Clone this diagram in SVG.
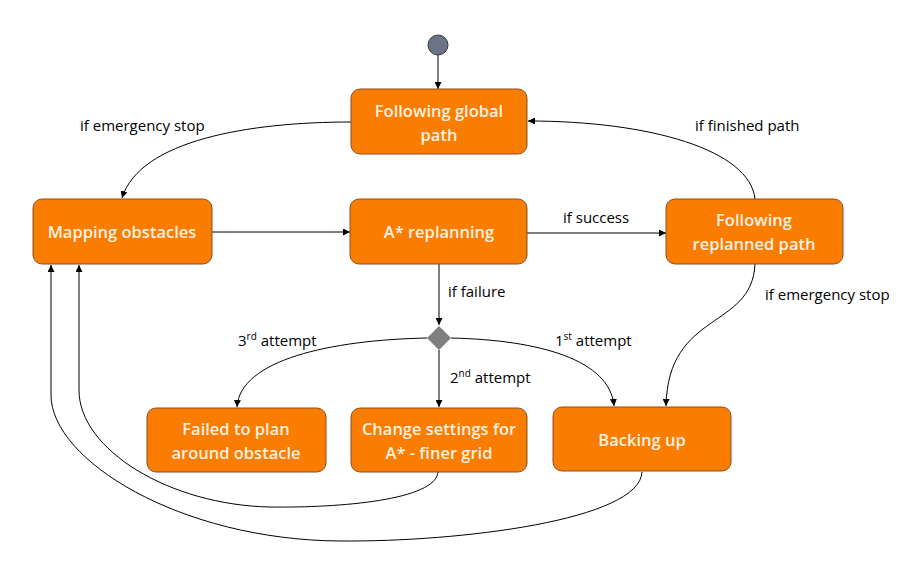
<svg xmlns="http://www.w3.org/2000/svg" width="919" height="573" viewBox="0 0 919 573">
<defs>
<marker id="arr" viewBox="0 0 10 10" refX="10" refY="5" markerWidth="7" markerHeight="7" markerUnits="userSpaceOnUse" orient="auto">
<path d="M0,0 L10,5 L0,10 z" fill="#000"/>
</marker>
<style>
.box{fill:#fa7d00;stroke:#8a4e22;stroke-width:1}
.nt{font-family:"Open Sans","Noto Sans",sans-serif;font-size:16.5px;font-weight:600;fill:#fdf0e0;text-anchor:middle;dominant-baseline:central}
.lb{font-family:"Open Sans","Noto Sans",sans-serif;font-size:15px;fill:#000}
.ln{fill:none;stroke:#000;stroke-width:1;marker-end:url(#arr)}
.sup{font-size:10px}
</style>
</defs>
<rect width="919" height="573" fill="#fff"/>
<g id="connectors">
<path class="ln" d="M438,55 L438,89"/>
<path class="ln" d="M351,122 C250,122 140,140 122,198"/>
<path class="ln" d="M755,199 C750,150 650,121 528,121"/>
<path class="ln" d="M212,232 L350,232"/>
<path class="ln" d="M527,233 L666,233"/>
<path class="ln" d="M439,264 L439,325"/>
<path class="ln" d="M755,264 C752,330 668,310 666,406"/>
<path class="ln" d="M451,338 C540,340 610,360 614,406"/>
<path class="ln" d="M427,338 C330,340 240,360 237,407"/>
<path class="ln" d="M439,350 L439,407"/>
<path class="ln" d="M438,472 C436,500 340,508 270,507 C170,505 79,450 79,390 L79,265"/>
<path class="ln" d="M642,472 C640,520 460,542 340,541 C180,540 51,460 51,395 L51,265"/>
</g>
<g id="start"><circle cx="438" cy="45" r="10" fill="#6b7386" stroke="#3a3a3a" stroke-width="1"/></g>
<g id="decision"><path d="M439,326 L451,338 L439,350 L427,338 z" fill="#7f7f7f"/></g>
<g id="following-global"><rect class="box" x="351" y="89" width="176" height="65" rx="9"/><text class="nt" x="439" y="110">Following global</text><text class="nt" x="439" y="134">path</text></g>
<g id="mapping"><rect class="box" x="33" y="199" width="179" height="65" rx="9"/><text class="nt" x="122" y="231">Mapping obstacles</text></g>
<g id="astar"><rect class="box" x="350" y="199" width="177" height="65" rx="9"/><text class="nt" x="439" y="231">A* replanning</text></g>
<g id="following-replanned"><rect class="box" x="666" y="199" width="177" height="65" rx="9"/><text class="nt" x="754" y="219">Following</text><text class="nt" x="754" y="243">replanned path</text></g>
<g id="failed"><rect class="box" x="147" y="408" width="179" height="64" rx="9"/><text class="nt" x="236" y="428">Failed to plan</text><text class="nt" x="236" y="452">around obstacle</text></g>
<g id="change"><rect class="box" x="351" y="408" width="176" height="64" rx="9"/><text class="nt" x="439" y="428">Change settings for</text><text class="nt" x="439" y="452">A* - finer grid</text></g>
<g id="backing"><rect class="box" x="553" y="407" width="178" height="64" rx="9"/><text class="nt" x="642" y="439">Backing up</text></g>
<g id="labels">
<text class="lb" x="80" y="131">if emergency stop</text>
<text class="lb" x="695" y="131">if finished path</text>
<text class="lb" x="563" y="223">if success</text>
<text class="lb" x="448" y="297">if failure</text>
<text class="lb" x="238" y="346">3<tspan class="sup" dy="-6">rd</tspan><tspan dy="6"> attempt</tspan></text>
<text class="lb" x="555" y="346">1<tspan class="sup" dy="-6">st</tspan><tspan dy="6"> attempt</tspan></text>
<text class="lb" x="450" y="383">2<tspan class="sup" dy="-6">nd</tspan><tspan dy="6"> attempt</tspan></text>
<text class="lb" x="765" y="300">if emergency stop</text>
</g>
</svg>
